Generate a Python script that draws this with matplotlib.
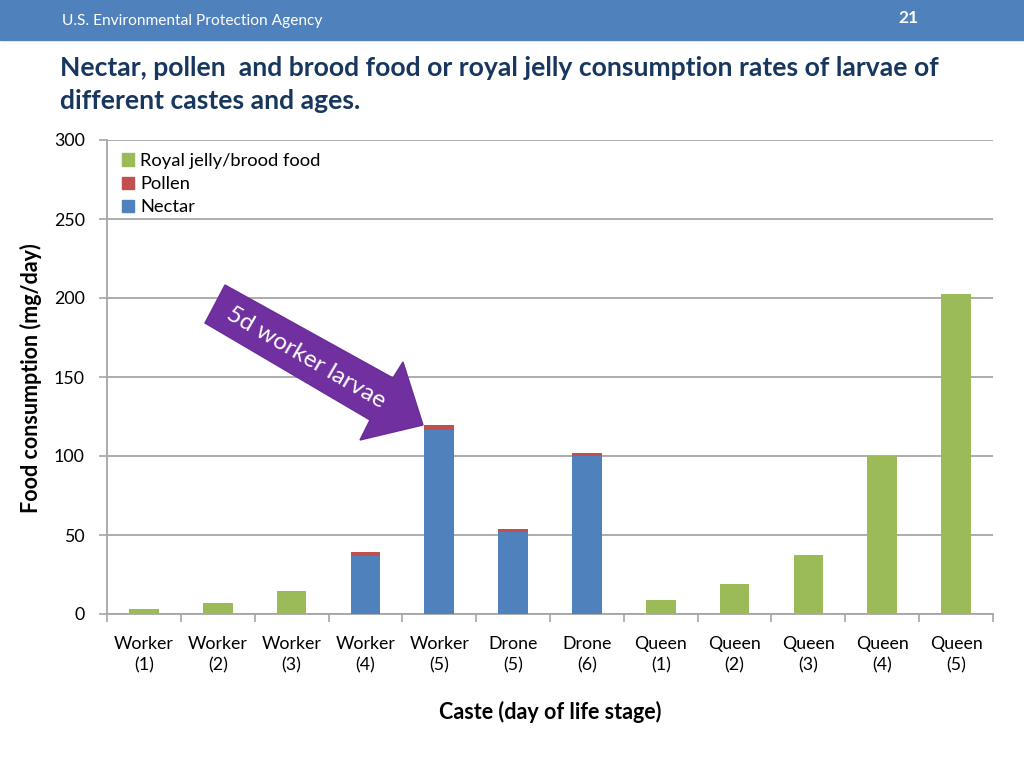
import numpy as np
import matplotlib.pyplot as plt
from matplotlib.patches import Patch, Rectangle, Polygon

# === Data ===
castes = ['Worker\n(1)', 'Worker\n(2)', 'Worker\n(3)', 'Worker\n(4)', 'Worker\n(5)',
          'Drone\n(5)', 'Drone\n(6)', 'Queen\n(1)', 'Queen\n(2)', 'Queen\n(3)',
          'Queen\n(4)', 'Queen\n(5)']
nectar = [0, 0, 0, 36.4, 116.5, 52.0, 99.8, 0, 0, 0, 0, 0]
pollen = [0, 0, 0, 2.8, 3.0, 2.0, 2.3, 0, 0, 0, 0, 0]
royal_jelly = [3.4, 7.2, 14.8, 0, 0, 0, 0, 9.0, 18.7, 37.5, 100.0, 202.5]

# === Colours ===
c_rj = '#9BBB59'
c_pol = '#C0504D'
c_nec = '#4F81BD'
grid_c = '#A6A6A6'
title_c = '#17375E'

plt.rcParams['font.family'] = ['Lato', 'DejaVu Sans']

fig = plt.figure(figsize=(10.24, 7.68), dpi=100)

# header band
fig.patches.append(Rectangle((0, 1 - 40 / 768), 1, 40 / 768, transform=fig.transFigure,
                             color='#4F81BD', zorder=0))
fig.text(62 / 1024, 1 - 21 / 768, 'U.S. Environmental Protection Agency', color='white',
         fontsize=11.2, va='center', ha='left')
fig.text(908 / 1024, 1 - 18 / 768, '21', color='white', fontsize=12.5, fontweight='bold',
         va='center', ha='center')

# slide title
fig.text(60 / 1024, 1 - 68 / 768,
         'Nectar, pollen  and brood food or royal jelly consumption rates of larvae of',
         color=title_c, fontsize=19.1, fontweight='bold', va='center', ha='left')
fig.text(60 / 1024, 1 - 101 / 768, 'different castes and ages.',
         color=title_c, fontsize=19.1, fontweight='bold', va='center', ha='left')

ax = fig.add_axes([107 / 1024, 1 - 614 / 768, 886 / 1024, 474 / 768])
x = np.arange(len(castes))
w = 0.4
nectar = np.array(nectar)
pollen = np.array(pollen)
royal_jelly = np.array(royal_jelly)

ax.bar(x, nectar, w, color=c_nec, zorder=3)
ax.bar(x, pollen, w, bottom=nectar, color=c_pol, zorder=3)
ax.bar(x, royal_jelly, w, bottom=nectar + pollen, color=c_rj, zorder=3)

ax.set_xlim(-0.5, len(castes) - 0.5)
ax.set_ylim(0, 300)
ax.set_yticks([0, 50, 100, 150, 200, 250, 300])
ax.yaxis.grid(True, color=grid_c, linewidth=1.3, zorder=0)
ax.set_axisbelow(True)

ax.set_xticks(x)
ax.set_xticklabels(castes, fontsize=12.8, linespacing=1.4)
ax.set_xticks(np.arange(-0.5, len(castes)), minor=True)
ax.tick_params(axis='x', which='major', length=0, pad=16)
ax.tick_params(axis='x', which='minor', length=6, color=grid_c, width=1.2)
ax.tick_params(axis='y', length=6, color=grid_c, width=1.2, labelsize=12.8, pad=10)

for s in ['top', 'right']:
    ax.spines[s].set_visible(False)
ax.spines['left'].set_color(grid_c)
ax.spines['left'].set_linewidth(1.3)
ax.spines['bottom'].set_color(grid_c)
ax.spines['bottom'].set_linewidth(1.3)

fig.text(31 / 1024, 1 - 378 / 768, 'Food consumption (mg/day)', fontsize=15.5,
         fontweight='bold', rotation=90, ha='center', va='center')
ax.set_xlabel('Caste (day of life stage)', fontsize=15.5, fontweight='bold', labelpad=20)

handles = [Patch(color=c_rj, label='Royal jelly/brood food'),
           Patch(color=c_pol, label='Pollen'),
           Patch(color=c_nec, label='Nectar')]
ax.legend(handles=handles, loc='upper left', bbox_to_anchor=(0.003, 1.0), frameon=False,
          fontsize=13.2, handlelength=0.65, handleheight=0.65, handletextpad=0.3,
          labelspacing=0.4, borderaxespad=0.3)

# purple call-out arrow (figure pixel outline, y measured from top)
arrow_px = [(225, 285), (393, 378), (403, 362), (423, 425), (360, 440), (370, 420), (205, 323)]
arrow = Polygon([(px / 1024, 1 - py / 768) for px, py in arrow_px], closed=True,
                transform=fig.transFigure, facecolor='#7030A0', edgecolor='#6A2C9A',
                linewidth=1, zorder=5)
fig.patches.append(arrow)
fig.text(306 / 1024, 1 - 358 / 768, '5d worker larvae', color='white', fontsize=17.5,
         rotation=-30.2, rotation_mode='anchor', ha='center', va='center', zorder=6)

fig.savefig('out.png', dpi=100)
